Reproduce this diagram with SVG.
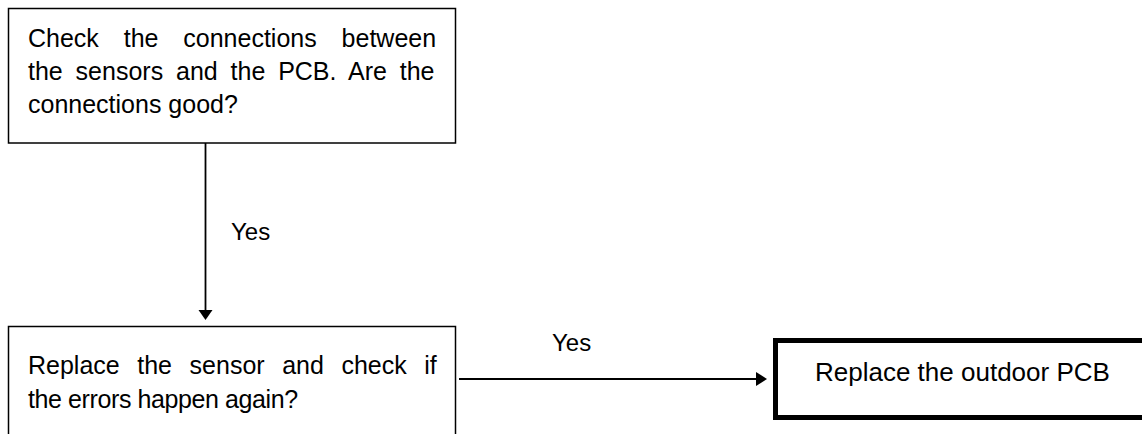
<svg xmlns="http://www.w3.org/2000/svg" width="1142" height="434" viewBox="0 0 1142 434">
<style>
.box{fill:#fff;stroke:#000;stroke-width:1.5}
.bold{fill:#fff;stroke:#000;stroke-width:5}
.t{font-family:"Liberation Sans",Arial,sans-serif;font-size:25px;fill:#000}
.ln{stroke:#000;stroke-width:1.8;fill:none}
.ah{fill:#000;stroke:none}
</style>
<rect width="1142" height="434" fill="#fff"/>
<g id="node-check">
<rect class="box" x="8.5" y="8.5" width="447" height="134.5"/>
<text class="t" x="28" y="47" word-spacing="17.9">Check the connections between</text>
<text class="t" x="28" y="80" word-spacing="5.9">the sensors and the PCB. Are the</text>
<text class="t" x="28" y="113">connections good?</text>
</g>
<g id="node-replace-sensor">
<rect class="box" x="8.5" y="326.5" width="447" height="130"/>
<text class="t" x="28" y="374" word-spacing="10.6">Replace the sensor and check if</text>
<text class="t" x="28" y="408" letter-spacing="-0.4">the errors happen again?</text>
</g>
<g id="node-replace-pcb">
<rect class="bold" x="775.5" y="340.5" width="400" height="77"/>
<text class="t" x="815" y="381" style="font-size:26px">Replace the outdoor PCB</text>
</g>
<g id="connectors">
<line class="ln" x1="205.5" y1="143" x2="205.5" y2="312"/>
<polygon class="ah" points="198.5,310 212.5,310 205.5,320"/>
<text class="t" x="231" y="240" style="font-size:24px">Yes</text>
<line class="ln" x1="459" y1="379" x2="758" y2="379"/>
<polygon class="ah" points="756,372 756,386 767,379"/>
<text class="t" x="552" y="351" style="font-size:24px">Yes</text>
</g>
</svg>
